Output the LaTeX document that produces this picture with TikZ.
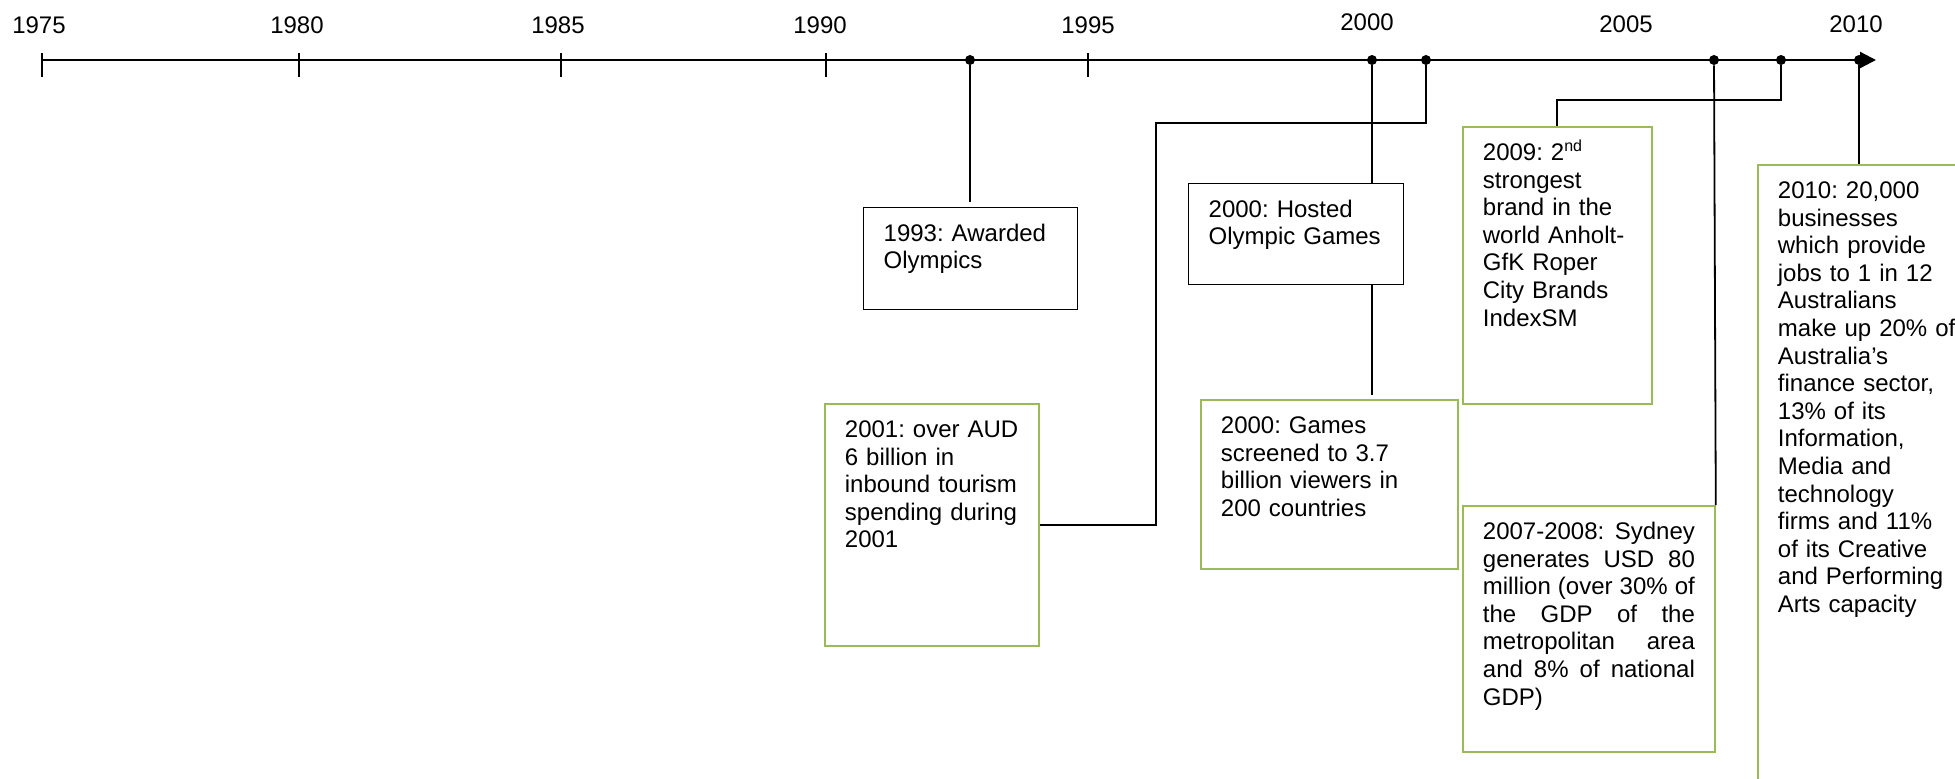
\documentclass[tikz,border=0pt]{standalone}
\usepackage{fontspec}
\setmainfont{Liberation Sans}
\usetikzlibrary{arrows.meta}
\frenchspacing

\definecolor{boxgreen}{HTML}{9BBB59}

\tikzset{
  evtbox/.style 2 args={draw, anchor=north west, align=left, inner xsep=10pt, inner ysep=7pt,
    text width=#1, text height=9.75pt, text depth=#2},
  plainbox/.style={line width=0.7pt},
  greenbox/.style={draw=boxgreen, line width=0.9pt},
  dot/.style={circle, fill, inner sep=0pt, minimum size=5pt},
  link/.style={line width=0.9pt},
  yearlab/.style={inner sep=0pt}
}

\begin{document}
\begin{tikzpicture}[x=0.5pt, y=-0.5pt, font=\fontsize{12}{13.8}\selectfont]

\useasboundingbox (0,0) rectangle (1955,778);
\clip (0,0) rectangle (1955,778);

% time axis
\coordinate (ax0) at (42,60);
\coordinate (ax1) at (1876,60);
\draw[line width=1.1pt, -{Triangle[length=8pt, width=8pt]}] (ax0) -- (ax1);
\foreach \tx in {42,299,561,826,1088}
  \draw[line width=0.7pt] (\tx,53) -- (\tx,77);

% years
\foreach \lx/\ly/\yr in {39/25/1975, 297/25/1980, 558/25/1985, 820/25/1990, 1088/25/1995,
    1367/22/2000, 1626/24/2005, 1856/24/2010}
  \node[yearlab] (y\yr) at (\lx,\ly) {\yr};

% events on the axis
\node[dot] (d1993) at (970,60) {};
\node[dot] (d2000) at (1372,60) {};
\node[dot] (d2001) at (1426,60) {};
\node[dot] (d2007) at (1714,60) {};
\node[dot] (d2009) at (1781,60) {};
\node[dot] (d2010) at (1859,60) {};

% boxes
\node[evtbox={87pt}{27.25pt}, plainbox] (b1993) at (863,207) {1993: Awarded\\Olympics};
\node[evtbox={87.5pt}{26.75pt}, plainbox] (bhost) at (1188,183) {2000: Hosted\\Olympic Games};
\node[evtbox={108.5pt}{60.75pt}, greenbox] (bview) at (1200,399)
  {2000: Games\\screened to 3.7\\billion viewers in\\200 countries};
\node[evtbox={87pt}{97.25pt}, greenbox] (btour) at (824,403)
  {2001: over AUD\\6 billion in\\inbound tourism\\spending during\\2001};
\node[evtbox={74.5pt}{114.75pt}, greenbox] (b2009) at (1462,126)
  {2009: 2\textsuperscript{nd}\\strongest\\brand in the\\world Anholt-\\GfK Roper\\City Brands\\IndexSM};
\node[evtbox={106pt}{99.25pt}, greenbox] (b2007) at (1462,505)
  {2007-2008:\hfill Sydney\\generates\hfill USD\hfill 80\\million\hfill (over\hfill 30\%\hfill of\\
   the\hfill GDP\hfill of\hfill the\\metropolitan\hfill area\\and\hfill 8\%\hfill of\hfill national\\GDP)};
\node[evtbox={91pt}{294.25pt}, greenbox] (b2010) at (1757,164)
  {2010: 20,000\\businesses\\which provide\\jobs to 1 in 12\\Australians\\make up 20\% of\\Australia’s\\
   finance sector,\\13\% of its\\Information,\\Media and\\technology\\firms and 11\%\\of its Creative\\
   and Performing\\Arts capacity};

% connectors
\draw[link, shorten >=2.5pt] (d1993) -- (d1993 |- b1993.north);
\draw[link] (d2000) -- (d2000 |- bhost.north);
\draw[link, shorten >=2pt] (d2000 |- bhost.south) -- (d2000 |- bview.north);
\coordinate (k2001) at (1156,123);
\draw[link] (d2001) |- (k2001) |- (btour.east);
\draw[link] (d2007) -- (b2007.north east);
\coordinate (k2009) at (1557,100);
\draw[link] (d2009) |- (k2009) -- (k2009 |- b2009.north);
\draw[link] (d2010) -- (d2010 |- b2010.north);

\end{tikzpicture}
\end{document}
